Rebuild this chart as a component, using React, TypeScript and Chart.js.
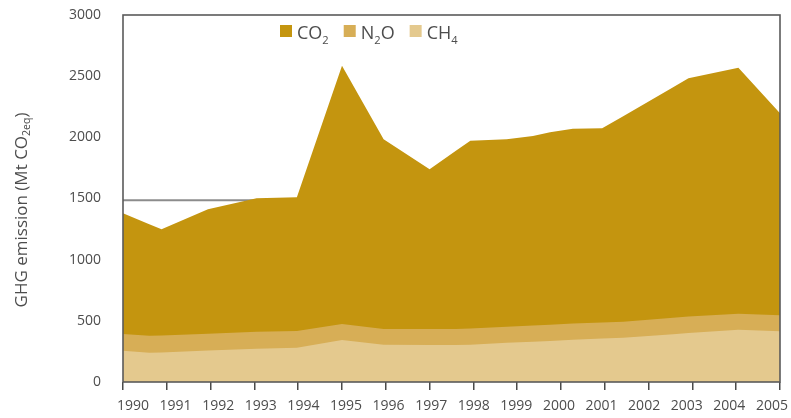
import React, { useEffect, useRef } from "react";
import { Chart, registerables } from "chart.js";

Chart.register(...registerables);

// Decimal-year positions of the outline vertices
const years = [
  1990, 1990.6, 1990.88, 1991.94, 1993.05, 1993.97, 1995, 1995.95, 1997, 1997.6,
  1997.93, 1998.76, 1999.36, 1999.75, 2000.27, 2000.94, 2001.42, 2002.56, 2002.91,
  2004.05, 2005,
];
// Mt CO2eq per gas (stacked: CH4 at bottom, N2O, CO2 on top)
const ch4 = [
  256, 240, 242, 258, 272, 280, 343, 305, 302, 302,
  305, 321, 330, 336, 345, 356, 362, 390, 400,
  428, 414,
];
const n2o = [
  136, 138, 138, 137, 138, 137, 131, 128, 131, 131,
  132, 131, 132, 133, 133, 131, 131, 136, 135,
  130, 131,
];
const co2 = [
  987, 912, 868, 1017, 1092, 1093, 2112, 1551, 1306, 1457,
  1536, 1532, 1549, 1572, 1593, 1587, 1680, 1884, 1947,
  2011, 1651,
];
const xTickYears = [
  1990, 1991, 1992, 1993, 1994, 1995, 1996, 1997, 1998, 1999, 2000, 2001, 2002,
  2003, 2004, 2005,
];
const yTicks = [0, 500, 1000, 1500, 2000, 2500, 3000];
const REF_LEVEL = 1485;

const gasColors = { co2: "#c4950f", n2o: "#d7ae56", ch4: "#e4c98e" };
const FONT = '"Open Sans", "DejaVu Sans", sans-serif';
const TEXT = "#4d4d4d";

type Part = { t: string; sub?: boolean };
const legendItems: { parts: Part[]; color: string }[] = [
  { parts: [{ t: "CO" }, { t: "2", sub: true }], color: gasColors.co2 },
  { parts: [{ t: "N" }, { t: "2", sub: true }, { t: "O" }], color: gasColors.n2o },
  { parts: [{ t: "CH" }, { t: "4", sub: true }], color: gasColors.ch4 },
];
const yTitle: Part[] = [
  { t: "GHG emission (Mt CO" },
  { t: "2eq", sub: true },
  { t: ")" },
];

function richWidth(ctx: CanvasRenderingContext2D, parts: Part[], size: number) {
  let w = 0;
  for (const p of parts) {
    ctx.font = `${p.sub ? size * 0.62 : size}px ${FONT}`;
    w += ctx.measureText(p.t).width;
  }
  return w;
}

function drawRich(
  ctx: CanvasRenderingContext2D,
  parts: Part[],
  x: number,
  y: number,
  size: number
) {
  let cx = x;
  ctx.fillStyle = TEXT;
  for (const p of parts) {
    ctx.font = `${p.sub ? size * 0.62 : size}px ${FONT}`;
    ctx.fillText(p.t, cx, p.sub ? y + size * 0.3 : y);
    cx += ctx.measureText(p.t).width;
  }
  return cx;
}

const zeroPad = (s: any) => {
  s.paddingLeft = 0;
  s.paddingRight = 0;
  s.paddingTop = 0;
  s.paddingBottom = 0;
};

const decor = {
  id: "decor",
  beforeDatasetsDraw(chart: any) {
    const { ctx, chartArea, scales } = chart;
    const py = scales.y.getPixelForValue(REF_LEVEL);
    ctx.save();
    ctx.strokeStyle = "#8c8c8c";
    ctx.lineWidth = 2;
    ctx.beginPath();
    ctx.moveTo(chartArea.left, py);
    ctx.lineTo(chartArea.right, py);
    ctx.stroke();
    ctx.restore();
  },
  afterDatasetsDraw(chart: any) {
    const { ctx, chartArea } = chart;
    ctx.save();
    ctx.strokeStyle = "#5a5a5a";
    ctx.lineWidth = 1.6;
    ctx.strokeRect(
      chartArea.left,
      chartArea.top,
      chartArea.right - chartArea.left,
      chartArea.bottom - chartArea.top
    );
    ctx.restore();
  },
  afterDraw(chart: any) {
    const { ctx } = chart;
    ctx.save();
    // legend
    ctx.textBaseline = "alphabetic";
    ctx.textAlign = "left";
    let x = 280;
    for (const item of legendItems) {
      ctx.fillStyle = item.color;
      ctx.fillRect(x, 25, 12, 12);
      const end = drawRich(ctx, item.parts, x + 17, 39, 18);
      x = end + 15;
    }
    // y title
    ctx.translate(22, 210);
    ctx.rotate(-Math.PI / 2);
    ctx.textBaseline = "middle";
    const w = richWidth(ctx, yTitle, 17);
    drawRich(ctx, yTitle, -w / 2, 0, 17);
    ctx.restore();
  },
};

export default function App() {
  const ref = useRef<HTMLCanvasElement | null>(null);

  useEffect(() => {
    document.body.style.margin = "0";
    const canvas = ref.current!;
    const mk = (arr: number[]) => years.map((x, i) => ({ x, y: arr[i] }));
    const chart = new Chart(canvas, {
      type: "line",
      data: {
        datasets: [
          { label: "CH4", data: mk(ch4), backgroundColor: gasColors.ch4, fill: "origin", borderWidth: 0, pointRadius: 0, tension: 0 },
          { label: "N2O", data: mk(n2o), backgroundColor: gasColors.n2o, fill: "origin", borderWidth: 0, pointRadius: 0, tension: 0 },
          { label: "CO2", data: mk(co2), backgroundColor: gasColors.co2, fill: "origin", borderWidth: 0, pointRadius: 0, tension: 0 },
        ],
      },
      options: {
        animation: false,
        responsive: false,
        layout: { padding: { left: 0, right: 11, top: 15, bottom: 0 } },
        plugins: { legend: { display: false }, tooltip: { enabled: false } },
        scales: {
          x: {
            type: "linear",
            position: "bottom",
            min: 1990,
            max: 2005,
            afterBuildTicks: (s: any) => {
              s.ticks = xTickYears.map((v) => ({ value: v }));
            },
            afterFit: (s: any) => {
              s.height = 36;
              zeroPad(s);
            },
            ticks: { display: false, autoSkip: false },
            grid: { drawOnChartArea: false, drawTicks: true, tickLength: 8, color: "#4a4a4a", lineWidth: 1.5 },
            border: { display: false },
          },
          xLabels: {
            type: "linear",
            axis: "x",
            position: { y: 0 },
            min: 1989.765,
            max: 2005.19,
            afterBuildTicks: (s: any) => {
              s.ticks = xTickYears.map((v) => ({ value: v }));
            },
            afterFit: (s: any) => {
              s.height = 0;
              zeroPad(s);
            },
            ticks: {
              autoSkip: false,
              maxRotation: 0,
              padding: 16,
              color: TEXT,
              font: { family: FONT, size: 14 },
              callback: (v: any) => String(v),
            },
            grid: { display: false, drawTicks: false },
            border: { display: false },
          },
          y: {
            stacked: true,
            min: 0,
            max: 3000,
            afterBuildTicks: (s: any) => {
              s.ticks = yTicks.map((v) => ({ value: v }));
            },
            afterFit: (s: any) => {
              s.width = 123;
              zeroPad(s);
            },
            ticks: {
              padding: 22,
              color: TEXT,
              font: { family: FONT, size: 14 },
              callback: (v: any) => String(v),
            },
            grid: { display: false, drawTicks: false },
            border: { display: false },
          },
        },
      },
      plugins: [decor],
    } as any);
    return () => chart.destroy();
  }, []);

  return (
    <canvas
      ref={ref}
      width={791}
      height={418}
      style={{ display: "block", position: "absolute", left: 0, top: 0 }}
    />
  );
}
